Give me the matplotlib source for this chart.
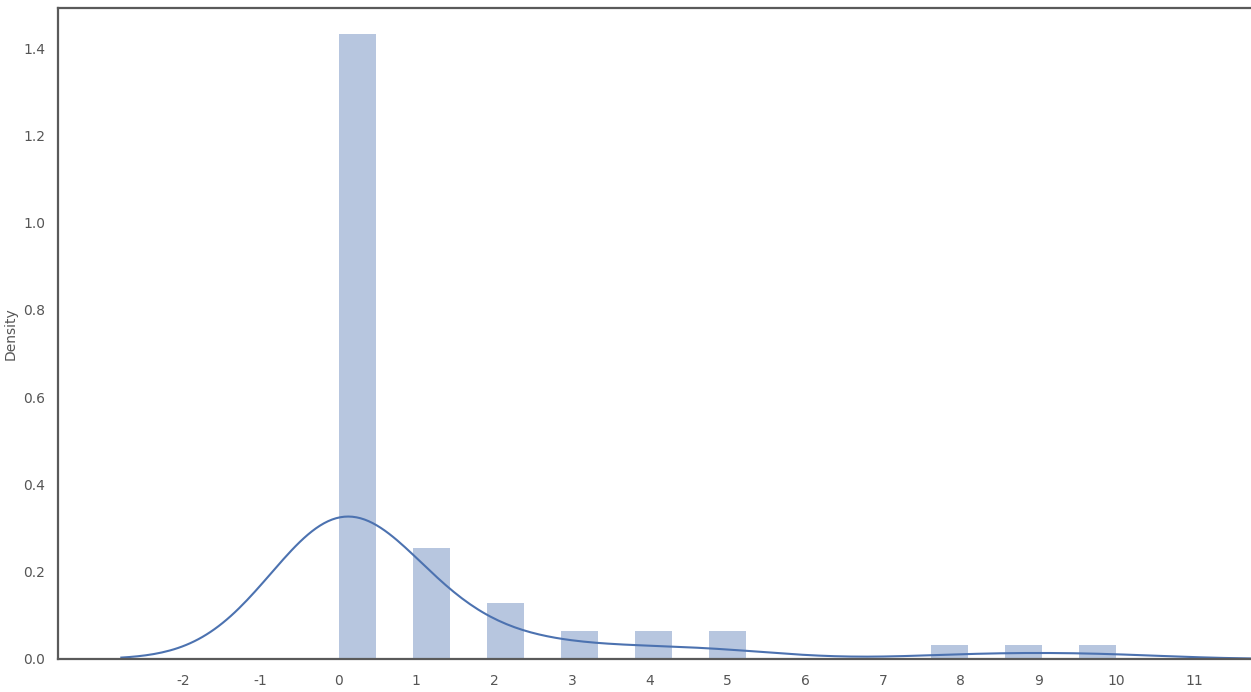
import numpy as np
import matplotlib
matplotlib.use("Agg")
import matplotlib.pyplot as plt

# Observed values and how many times each occurs
values = [0, 1, 2, 3, 4, 5, 8, 9, 10]
counts = [45, 8, 4, 2, 2, 2, 1, 1, 1]
n_bins = 21
x_ticks = list(range(-2, 12))
y_ticks = [0.0, 0.2, 0.4, 0.6, 0.8, 1.0, 1.2, 1.4]

data = np.repeat(np.array(values, dtype=float), counts)

color = "#4C72B0"
text_color = "#555555"

fig = plt.figure(figsize=(12.51, 6.92), dpi=100)
ax = fig.add_axes([58 / 1251, 33 / 692, 1 - 58 / 1251, (659 - 8) / 692])

# Histogram (density)
ax.hist(data, bins=n_bins, range=(data.min(), data.max()), density=True,
        color=color, alpha=0.4, edgecolor="none", rwidth=1.0)

# Gaussian KDE (Scott's rule, cut=3)
n = len(data)
bw = data.std(ddof=1) * n ** (-1 / 5)
grid = np.linspace(data.min() - 3 * bw, data.max() + 3 * bw, 300)
dens = np.exp(-0.5 * ((grid[:, None] - data[None, :]) / bw) ** 2).sum(axis=1)
dens /= n * bw * np.sqrt(2 * np.pi)
ax.plot(grid, dens, color=color, lw=1.5)

ax.set_xlim(-3.607, 11.733)
ax.set_ylim(0, 1.492)
ax.set_xticks(x_ticks)
ax.set_xticklabels([str(t) for t in x_ticks])
ax.set_yticks(y_ticks)
ax.set_yticklabels([f"{t:.1f}" for t in y_ticks])
ax.tick_params(axis="both", length=0, labelsize=10, colors=text_color)
ax.tick_params(axis="x", pad=11)
ax.tick_params(axis="y", pad=9)
ax.set_ylabel("Density", fontsize=10, color=text_color)
ax.yaxis.set_label_coords(-0.0335, 0.5)

for side in ["left", "top", "bottom"]:
    ax.spines[side].set_color("#5a5a5a")
    ax.spines[side].set_linewidth(1.6)
ax.spines["right"].set_visible(False)

fig.savefig("out.png", dpi=100)
